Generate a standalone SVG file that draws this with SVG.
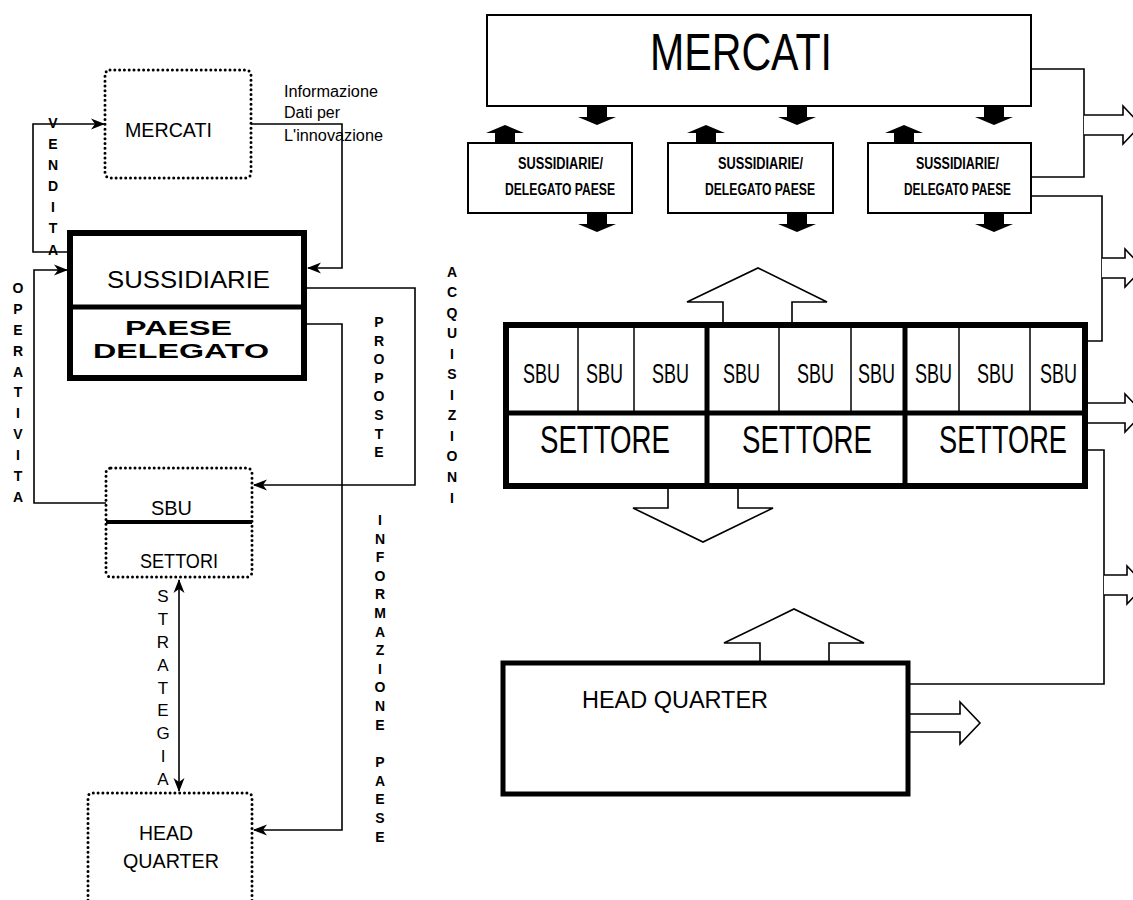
<svg xmlns="http://www.w3.org/2000/svg" width="1133" height="900" viewBox="0 0 1133 900">
<defs>
<marker id="ah" markerUnits="userSpaceOnUse" markerWidth="14" markerHeight="12" refX="13" refY="6" orient="auto-start-reverse" viewBox="0 0 14 12"><path d="M0,0.5 L14,6 L0,11.5 L4,6 Z" fill="#000"/></marker>
<path id="dn" d="M-10,0 H10 V11 H19 L0,19 L-19,11 H-10 Z"/>
<path id="up" d="M-10,0 V-10 H-19 L0,-18 L19,-10 H10 V0 Z"/>
</defs>
<style>
.t{font-family:"Liberation Sans",Arial,sans-serif;fill:#000}
.b{font-weight:bold}
.ln{fill:none;stroke:#000;stroke-width:1.6}
.ha{fill:#fff;stroke:#000;stroke-width:1.6}
.dot{fill:none;stroke:#000;stroke-width:3;stroke-dasharray:0 4.8;stroke-linecap:round}
.thin{fill:#fff;stroke:#000;stroke-width:2}
.thick{fill:#fff;stroke:#000;stroke-width:6}
.v{font-size:14px;font-weight:bold;text-anchor:middle}
</style>
<rect width="1133" height="900" fill="#fff"/>

<g id="connectors">
<path class="ln" d="M68,252 H33 V124 H104" marker-end="url(#ah)"/>
<path class="ln" d="M251,124 H342 V268 H308" marker-end="url(#ah)"/>
<path class="ln" d="M106,503 H34 V270 H67" marker-end="url(#ah)"/>
<path class="ln" d="M307,288 H415 V485 H254" marker-end="url(#ah)"/>
<path class="ln" d="M307,324 H342 V830 H254" marker-end="url(#ah)"/>
<path class="ln" d="M179,580 V791" marker-start="url(#ah)" marker-end="url(#ah)"/>

<use href="#dn" x="597" y="106"/><use href="#dn" x="797" y="106"/><use href="#dn" x="994" y="106"/>
<use href="#up" x="505" y="143"/><use href="#up" x="706" y="143"/><use href="#up" x="904" y="143"/>
<use href="#dn" x="597" y="213"/><use href="#dn" x="797" y="213"/><use href="#dn" x="994" y="213"/>

<path class="ln" d="M1031,69 H1084 V177 H1031"/>
<path class="ha" d="M1084,115 H1123 V106 L1141,125 L1123,144 V135 H1084"/>
<path class="ln" d="M1031,196 H1102 V341 H1088"/>
<path class="ha" d="M1102,258 H1125 V249 L1143,268 L1125,287 V278 H1102"/>
<path class="ha" d="M1088,403 H1125 V394 L1143,413 L1125,432 V423 H1088"/>
<path class="ln" d="M1088,450 H1104 V684 H908"/>
<path class="ha" d="M1104,575 H1127 V566 L1145,585 L1127,604 V595 H1104"/>
<path class="ha" d="M908,714 H960 V702 L980,723 L960,744 V732 H908"/>

<path class="ha" d="M723,322 V302 H687 L758,268 L827,302 H792 V322"/>
<path class="ha" d="M668,489 V508 H633 L703,542 L773,508 H738 V489"/>
<path class="ha" d="M760,663 V643 H724 L794,609 L864,643 H829 V663"/>
</g>

<g id="l-mercati">
<rect class="dot" x="105" y="70" width="146" height="108" rx="5"/>
<text class="t" x="125" y="137" font-size="21" textLength="87" lengthAdjust="spacingAndGlyphs">MERCATI</text>
</g>
<g id="l-sussidiarie">
<rect class="thick" x="70" y="233" width="234" height="145"/>
<line x1="70" y1="307" x2="304" y2="307" stroke="#000" stroke-width="5"/>
<text class="t" x="107" y="288" font-size="24" textLength="163" lengthAdjust="spacingAndGlyphs">SUSSIDIARIE</text>
<text class="t b" x="125" y="335" font-size="20" textLength="107" lengthAdjust="spacingAndGlyphs">PAESE</text>
<text class="t b" x="93" y="358" font-size="20" textLength="176" lengthAdjust="spacingAndGlyphs">DELEGATO</text>
</g>
<g id="l-sbu">
<rect class="dot" x="106" y="468" width="146" height="109" rx="5"/>
<line x1="106" y1="522" x2="252" y2="522" stroke="#000" stroke-width="4"/>
<text class="t" x="151" y="515" font-size="21" textLength="41" lengthAdjust="spacingAndGlyphs">SBU</text>
<text class="t" x="140" y="568" font-size="21" textLength="78" lengthAdjust="spacingAndGlyphs">SETTORI</text>
</g>
<g id="l-hq">
<path class="dot" d="M88,905 V798 Q88,793 93,793 H247 Q252,793 252,798 V905"/>
<text class="t" x="139" y="840" font-size="21" textLength="54" lengthAdjust="spacingAndGlyphs">HEAD</text>
<text class="t" x="123" y="868" font-size="21" textLength="96" lengthAdjust="spacingAndGlyphs">QUARTER</text>
</g>

<g id="labels">
<text class="t" x="284" y="97" font-size="16" textLength="94" lengthAdjust="spacingAndGlyphs">Informazione</text>
<text class="t" x="284" y="118" font-size="16" textLength="56" lengthAdjust="spacingAndGlyphs">Dati per</text>
<text class="t" x="284" y="141" font-size="16" textLength="99" lengthAdjust="spacingAndGlyphs">L'innovazione</text>
<text class="t v"><tspan x="53" y="128">V</tspan><tspan x="53" y="149">E</tspan><tspan x="53" y="170">N</tspan><tspan x="53" y="191">D</tspan><tspan x="53" y="212">I</tspan><tspan x="53" y="233">T</tspan><tspan x="53" y="255">A</tspan></text>
<text class="t v"><tspan x="18" y="293">O</tspan><tspan x="18" y="314">P</tspan><tspan x="18" y="335">E</tspan><tspan x="18" y="356">R</tspan><tspan x="18" y="377">A</tspan><tspan x="18" y="397">T</tspan><tspan x="18" y="418">I</tspan><tspan x="18" y="439">V</tspan><tspan x="18" y="460">I</tspan><tspan x="18" y="481">T</tspan><tspan x="18" y="502">A</tspan></text>
<text class="t v"><tspan x="379" y="327">P</tspan><tspan x="379" y="346">R</tspan><tspan x="379" y="364">O</tspan><tspan x="379" y="383">P</tspan><tspan x="379" y="401">O</tspan><tspan x="379" y="420">S</tspan><tspan x="379" y="439">T</tspan><tspan x="379" y="457">E</tspan></text>
<text class="t v"><tspan x="452" y="277">A</tspan><tspan x="452" y="297">C</tspan><tspan x="452" y="318">Q</tspan><tspan x="452" y="338">U</tspan><tspan x="452" y="359">I</tspan><tspan x="452" y="379">S</tspan><tspan x="452" y="400">I</tspan><tspan x="452" y="420">Z</tspan><tspan x="452" y="441">I</tspan><tspan x="452" y="461">O</tspan><tspan x="452" y="482">N</tspan><tspan x="452" y="503">I</tspan></text>
<text class="t" font-size="17" text-anchor="middle"><tspan x="163" y="602">S</tspan><tspan x="163" y="625">T</tspan><tspan x="163" y="648">R</tspan><tspan x="163" y="671">A</tspan><tspan x="163" y="694">T</tspan><tspan x="163" y="716">E</tspan><tspan x="163" y="739">G</tspan><tspan x="163" y="762">I</tspan><tspan x="163" y="785">A</tspan></text>
<text class="t v"><tspan x="380" y="525">I</tspan><tspan x="380" y="544">N</tspan><tspan x="380" y="562">F</tspan><tspan x="380" y="581">O</tspan><tspan x="380" y="599">R</tspan><tspan x="380" y="618">M</tspan><tspan x="380" y="637">A</tspan><tspan x="380" y="655">Z</tspan><tspan x="380" y="674">I</tspan><tspan x="380" y="692">O</tspan><tspan x="380" y="711">N</tspan><tspan x="380" y="730">E</tspan><tspan x="380" y="767">P</tspan><tspan x="380" y="786">A</tspan><tspan x="380" y="804">E</tspan><tspan x="380" y="823">S</tspan><tspan x="380" y="842">E</tspan></text>
</g>

<g id="r-mercati">
<rect class="thin" x="487" y="15" width="544" height="91"/>
<text class="t" x="650" y="70" font-size="52" textLength="182" lengthAdjust="spacingAndGlyphs">MERCATI</text>
</g>
<g id="r-sub1">
<rect class="thin" x="468" y="143" width="164" height="70"/>
<text class="t b" x="518" y="169" font-size="16" textLength="85" lengthAdjust="spacingAndGlyphs">SUSSIDIARIE/</text>
<text class="t b" x="505" y="195" font-size="16" textLength="110" lengthAdjust="spacingAndGlyphs">DELEGATO PAESE</text>
</g>
<g id="r-sub2">
<rect class="thin" x="668" y="143" width="165" height="70"/>
<text class="t b" x="718" y="169" font-size="16" textLength="85" lengthAdjust="spacingAndGlyphs">SUSSIDIARIE/</text>
<text class="t b" x="705" y="195" font-size="16" textLength="110" lengthAdjust="spacingAndGlyphs">DELEGATO PAESE</text>
</g>
<g id="r-sub3">
<rect class="thin" x="868" y="143" width="163" height="70"/>
<text class="t b" x="916" y="169" font-size="16" textLength="83" lengthAdjust="spacingAndGlyphs">SUSSIDIARIE/</text>
<text class="t b" x="904" y="195" font-size="16" textLength="107" lengthAdjust="spacingAndGlyphs">DELEGATO PAESE</text>
</g>
<g id="r-settori">
<rect class="thick" x="506" y="325" width="579" height="161"/>
<g stroke="#000" stroke-width="1.5">
<line x1="578" y1="325" x2="578" y2="413"/><line x1="634" y1="325" x2="634" y2="413"/>
<line x1="779" y1="325" x2="779" y2="413"/><line x1="851" y1="325" x2="851" y2="413"/>
<line x1="959" y1="325" x2="959" y2="413"/><line x1="1030" y1="325" x2="1030" y2="413"/>
</g>
<g stroke="#000" stroke-width="5">
<line x1="506" y1="413" x2="1085" y2="413"/>
<line x1="707" y1="325" x2="707" y2="486"/><line x1="905" y1="325" x2="905" y2="486"/>
</g>
<g class="t" font-size="28">
<text x="523" y="383" textLength="37" lengthAdjust="spacingAndGlyphs">SBU</text>
<text x="586" y="383" textLength="37" lengthAdjust="spacingAndGlyphs">SBU</text>
<text x="652" y="383" textLength="37" lengthAdjust="spacingAndGlyphs">SBU</text>
<text x="723" y="383" textLength="37" lengthAdjust="spacingAndGlyphs">SBU</text>
<text x="797" y="383" textLength="37" lengthAdjust="spacingAndGlyphs">SBU</text>
<text x="858" y="383" textLength="37" lengthAdjust="spacingAndGlyphs">SBU</text>
<text x="915" y="383" textLength="37" lengthAdjust="spacingAndGlyphs">SBU</text>
<text x="977" y="383" textLength="37" lengthAdjust="spacingAndGlyphs">SBU</text>
<text x="1040" y="383" textLength="37" lengthAdjust="spacingAndGlyphs">SBU</text>
</g>
<g class="t" font-size="39">
<text x="540" y="453" textLength="130" lengthAdjust="spacingAndGlyphs">SETTORE</text>
<text x="742" y="453" textLength="130" lengthAdjust="spacingAndGlyphs">SETTORE</text>
<text x="939" y="453" textLength="128" lengthAdjust="spacingAndGlyphs">SETTORE</text>
</g>
</g>
<g id="r-hq">
<rect fill="#fff" stroke="#000" stroke-width="5" x="503" y="663" width="405" height="131"/>
<text class="t" x="582" y="708" font-size="23" textLength="186" lengthAdjust="spacingAndGlyphs">HEAD QUARTER</text>
</g>
</svg>
